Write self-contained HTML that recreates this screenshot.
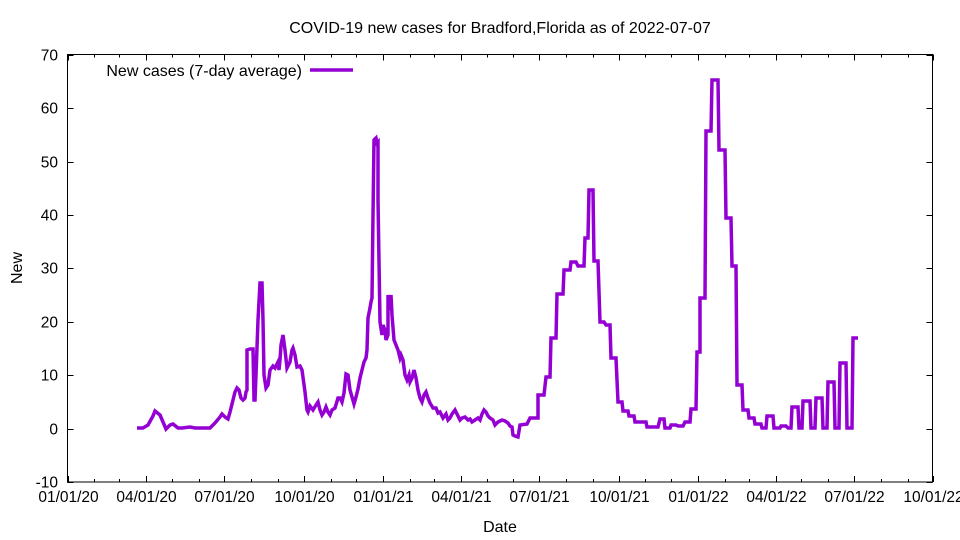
<!DOCTYPE html>
<html><head><meta charset="utf-8"><style>
html,body{margin:0;padding:0;background:#fff;}
svg{display:block;font-family:"Liberation Sans",sans-serif;}
</style></head><body>
<svg id="s" width="960" height="540" viewBox="0 0 960 540" xmlns="http://www.w3.org/2000/svg">
<rect width="960" height="540" fill="#fff"/>
<text x="500" y="33" font-size="16" text-anchor="middle">COVID-19 new cases for Bradford,Florida as of 2022-07-07</text>
<text x="500" y="532" font-size="16" text-anchor="middle">Date</text>
<text transform="translate(22,268) rotate(-90)" font-size="16" text-anchor="middle">New</text>
<g id="ticks" stroke="#000" stroke-width="1"></g>
<g id="labels" font-size="15.5"></g>
<rect x="67.5" y="54.5" width="865" height="427.5" fill="none" stroke="#000" stroke-width="1"/>
<text x="302" y="76" font-size="16" text-anchor="end">New cases (7-day average)</text>
<line x1="310" y1="70" x2="353" y2="70" stroke="#9400d3" stroke-width="3.5"/>
<polyline fill="none" stroke="#9400d3" stroke-width="3.5" stroke-linejoin="miter" points="
137,428 143,428 148,425 153,416 155,411 160,415 163,422 166,429 170,425 173,424 178,428 182,428 190,427 195,428 200,428 205,428 210,428 215,423 220,417 222,414 225,417 228,419 230,412 233,400 235,392 237,388 239,390 241,398 243,400 245,398 246,392 247,390 247,350 250,349 253,349 254,400 255,400 256,375 258,320 260,283 262,283 263,320 264,375 266,388 268,385 270,370 273,366 275,368 278,362 279,370 280,360 281,345 282,340 283,335 285,350 287,368 290,362 292,350 293,348 295,355 297,367
300,366 302,370 305,392 307,410 308,412 310,406 313,410 316,405 318,402 320,410 322,415 324,412 326,407 328,412 330,415 332,410 335,408 338,398 340,398 342,402 344,393 346,374 348,375 350,390 352,397 354,404 356,397 358,389 360,378 362,370 364,362 366,358 367,350 368,318 370,308 371,302 372,298 373,215 374,140 376,138 377,143 378,142 378,200 380,322 382,335 383,325 385,330 386,340 388,335 388,295 390,310 391,295 392,315 394,340 396,345 398,350 400,358 401,355 403,360 405,375 407,380 409,375 410,382 412,378 414,370 416,378 418,390 420,398 422,402 424,395 426,392 428,398 430,403 433,408 436,408 438,413 440,412 443,418 446,414 448,420 450,418 452,414 455,410 457,414 460,420 462,418 465,417 468,420 470,419 472,422 475,420 478,418 480,420 482,414 484,410 486,412 488,416 490,418 493,420 495,425 498,422 502,420 505,421 508,423 510,426 512,427 513,435 515,436 518,437 520,425
527,424 530,418 535,418 538,418 538,395 544,395 546,377 550,377 551,338 556,338 557,294 563,294 564,270 570,270 571,262 576,262 578,266 584,266 585,238 588,238 589,190 593,190 594,261 598,261 600,322 604,322 606,325 610,325 611,358 616,358 618,402 622,402 623,411 628,411 629,416 634,416 635,422 646,422 647,427 658,427 660,419 664,419 665,428 670,428 671,425 676,425 678,426 683,426 685,422 690,422 691,409 696,409 697,352 700,352 700,298 705,298 706,131 711,131 712,80 718,80 719,150 725,150 726,218 731,218 732,266 736,266 737,385 742,385 743,410 748,410 749,418 754,418 755,424 761,424 762,428 766,428 767,416 773,416 774,428 780,428 781,426 786,426 788,428 791,428 792,407 798,407 799,428 802,428 803,401 810,401 811,428 815,428 816,398 822,398 823,428 827,428 828,382 834,382 835,428 839,428 840,363 846,363 847,428 852,428 853,338 858,338"/>
</svg>
<script>
(function(){
var ns="http://www.w3.org/2000/svg";
var t=document.getElementById("ticks"),l=document.getElementById("labels");
function ln(x1,y1,x2,y2){var e=document.createElementNS(ns,"line");e.setAttribute("x1",x1);e.setAttribute("y1",y1);e.setAttribute("x2",x2);e.setAttribute("y2",y2);t.appendChild(e);}
function tx(x,y,s,a){var e=document.createElementNS(ns,"text");e.setAttribute("x",x);e.setAttribute("y",y);e.setAttribute("text-anchor",a);e.textContent=s;l.appendChild(e);}
for(var v=-10;v<=70;v+=10){var y=428.6-v*5.3375;y=Math.round(y)+0.5;
 ln(67.5,y,73.5,y);ln(932.5,y,926.5,y);tx(58,y+5,String(v),"end");}
var base=Date.UTC(2020,0,1);
for(var m=0;m<=33;m++){var yr=2020+Math.floor(m/12),mo=m%12;
 var d=(Date.UTC(yr,mo,1)-base)/86400000;var x=Math.round(67.5+d*0.8625)+0.5;
 var major=(mo%3==0);var len=major?6:3;
 ln(x,482,x,482-len);ln(x,54.5,x,54.5+len);
 if(major){var s=("0"+(mo+1)).slice(-2)+"/01/"+String(yr).slice(2);tx(x,502,s,"middle");}}
})();
</script>
</body></html>
